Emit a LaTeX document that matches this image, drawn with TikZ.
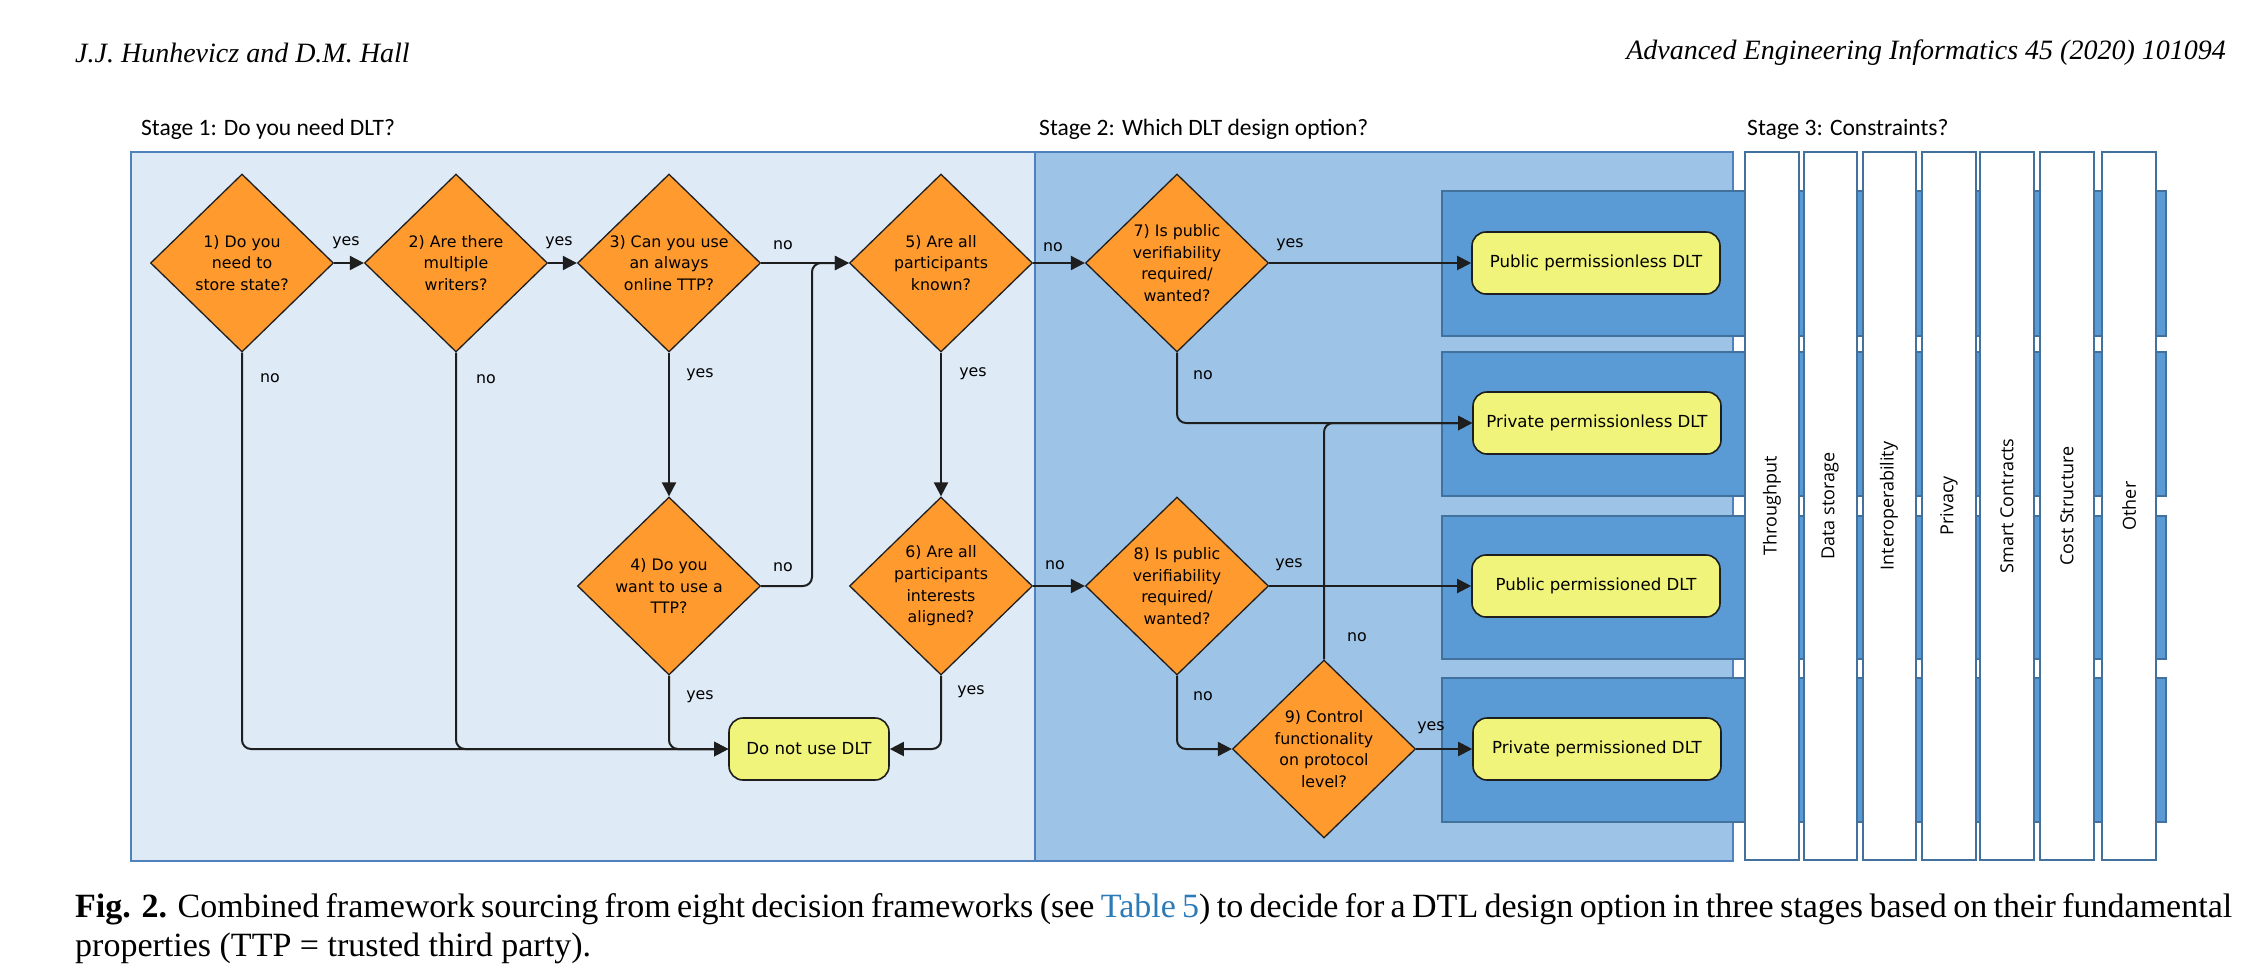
\documentclass[tikz,border=0pt]{standalone}
\usepackage{fontspec}
\setmainfont{Liberation Serif}
\newfontfamily\diagfont{DejaVu Sans}
\newfontfamily\stagefont{Carlito}
\newfontfamily\colfont{Open Sans}
\usetikzlibrary{shapes.geometric,arrows.meta}
\definecolor{stageone}{HTML}{DEEAF6}
\definecolor{stagetwo}{HTML}{9DC3E6}
\definecolor{bandfill}{HTML}{5B9BD5}
\definecolor{bandline}{HTML}{41719C}
\definecolor{framecol}{HTML}{4F81BD}
\definecolor{diafill}{HTML}{FF9A2E}
\definecolor{yfill}{HTML}{F0F47A}
\definecolor{linkblue}{HTML}{2B7BB9}
\definecolor{ink}{HTML}{1E1E1E}
\tikzset{
  decision/.style={diamond, draw=ink, line width=1.3pt, fill=diafill,
    minimum width=183pt, minimum height=178pt, inner sep=0pt, align=center,
    font=\diagfont\fontsize{15.8}{21.7}\selectfont},
  result/.style={rectangle, rounded corners=14pt, draw=ink, line width=1.6pt,
    fill=yfill, inner sep=0pt, align=center,
    font=\diagfont\fontsize{16.6}{21.7}\selectfont},
  flow/.style={draw=ink, line width=2pt, rounded corners=9pt,
    -{Triangle[length=14pt,width=14pt]}},
  lab/.style={font=\diagfont\fontsize{15.8}{20}\selectfont, inner sep=0pt},
  stagelab/.style={font=\stagefont\fontsize{23.5}{27}\selectfont, inner sep=0pt, anchor=west},
  colbox/.style={draw=bandline, line width=2.5pt, fill=white},
  bandbox/.style={draw=bandline, line width=1.6pt, fill=bandfill},
  stagebox/.style={draw=framecol, line width=2.6pt},
  collab/.style={font=\colfont\fontsize{18}{21}\selectfont, rotate=90, inner sep=0pt},
}
\begin{document}
\begin{tikzpicture}[x=1pt,y=-1pt]
\useasboundingbox (0,0) rectangle (2251,970);
\fill[white] (0,0) rectangle (2251,970);

% header
\node[anchor=west, inner sep=0pt, font=\itshape\fontsize{28}{32}\selectfont] (hdl) at (75,53) {J.J. Hunhevicz and D.M. Hall};
\node[anchor=east, inner sep=0pt, font=\itshape\fontsize{28}{32}\selectfont] (hdr) at (2226,53) {Advanced Engineering Informatics 45 (2020) 101094};

% stage labels
\node[stagelab] (s1) at (141,129) {Stage 1: Do you need DLT?};
\node[stagelab] (s2) at (1039,129) {Stage 2: Which DLT design option?};
\node[stagelab] (s3) at (1747,129) {Stage 3: Constraints?};

% stage boxes
\path[stagebox, fill=stageone] (131,152) rectangle (1035,861);
\path[stagebox, fill=stagetwo] (1035,152) rectangle (1733,861);

% bands
\path[bandbox] (1442,191) rectangle (2166,336);
\path[bandbox] (1442,352) rectangle (2166,496);
\path[bandbox] (1442,516) rectangle (2166,659);
\path[bandbox] (1442,678) rectangle (2166,822);

% constraint columns
\path[colbox] (1745,152) rectangle (1799,860);
\path[colbox] (1804,152) rectangle (1857,860);
\path[colbox] (1863,152) rectangle (1916,860);
\path[colbox] (1922,152) rectangle (1976,860);
\path[colbox] (1980,152) rectangle (2034,860);
\path[colbox] (2040,152) rectangle (2094,860);
\path[colbox] (2102,152) rectangle (2156,860);
\node[collab] (c1) at (1772,506) {Throughput};
\node[collab] (c2) at (1830,506) {Data storage};
\node[collab] (c3) at (1889,506) {Interoperability};
\node[collab] (c4) at (1949,506) {Privacy};
\node[collab] (c5) at (2007,506) {Smart Contracts};
\node[collab] (c6) at (2067,506) {Cost Structure};
\node[collab] (c7) at (2129,506) {Other};

% decisions
\node[decision] (d1) at (242,263) {1) Do you\\need to\\store state?};
\node[decision] (d2) at (456,263) {2) Are there\\multiple\\writers?};
\node[decision] (d3) at (669,263) {3) Can you use\\an always\\online TTP?};
\node[decision] (d5) at (941,263) {5) Are all\\participants\\known?};
\node[decision] (d4) at (669,586) {4) Do you\\want to use a\\TTP?};
\node[decision] (d6) at (941,586) {6) Are all\\participants\\interests\\aligned?};
\node[decision] (d7) at (1177,263) {7) Is public\\verifiability\\required/\\wanted?};
\node[decision] (d8) at (1177,586) {8) Is public\\verifiability\\required/\\wanted?};
\node[decision] (d9) at (1324,749) {9) Control\\functionality\\on protocol\\level?};

% results
\node[result, minimum width=160pt, minimum height=62pt] (dnu) at (809,749) {Do not use DLT};
\node[result, minimum width=248pt, minimum height=62pt] (y1) at (1596,263) {Public permissionless DLT};
\node[result, minimum width=248pt, minimum height=62pt] (y2) at (1597,423) {Private permissionless DLT};
\node[result, minimum width=248pt, minimum height=62pt] (y3) at (1596,586) {Public permissioned DLT};
\node[result, minimum width=248pt, minimum height=62pt] (y4) at (1597,749) {Private permissioned DLT};

% junction coordinates
\coordinate (m35) at (812,263);

% connectors
\draw[flow] (d1.east) -- (d2.west);
\draw[flow] (d2.east) -- (d3.west);
\draw[flow] (d3.east) -- (d5.west);
\draw[flow] (d3.south) -- (d4.north);
\draw[flow] (d4.east) -| (m35) -- (d5.west);
\draw[flow] (d5.south) -- (d6.north);
\draw[flow] (d5.east) -- (d7.west);
\draw[flow] (d6.east) -- (d8.west);
\draw[flow] (d1.south) |- (dnu.west);
\draw[flow] (d2.south) |- (dnu.west);
\draw[flow] (d4.south) |- (dnu.west);
\draw[flow] (d6.south) |- (dnu.east);
\draw[flow] (d7.east) -- (y1.west);
\draw[flow] (d7.south) |- (y2.west);
\draw[flow] (d8.east) -- (y3.west);
\draw[flow] (d8.south) |- (d9.west);
\draw[flow] (d9.east) -- (y4.west);
\draw[flow] (d9.north) |- (y2.west);

% labels
\node[lab] (l1) at (346,243) {yes};
\node[lab] (l2) at (559,243) {yes};
\node[lab] (l3) at (783,245) {no};
\node[lab] (l4) at (1053,247) {no};
\node[lab] (l5) at (1290,245) {yes};
\node[lab] (l6) at (270,378) {no};
\node[lab] (l7) at (486,379) {no};
\node[lab] (l8) at (700,375) {yes};
\node[lab] (l9) at (973,374) {yes};
\node[lab] (l10) at (1203,375) {no};
\node[lab] (l11) at (783,567) {no};
\node[lab] (l12) at (1055,565) {no};
\node[lab] (l13) at (1289,565) {yes};
\node[lab] (l14) at (1357,637) {no};
\node[lab] (l15) at (700,697) {yes};
\node[lab] (l16) at (971,692) {yes};
\node[lab] (l17) at (1203,696) {no};
\node[lab] (l18) at (1431,728) {yes};

% caption
\node[anchor=north west, inner sep=0pt, align=left, font=\fontsize{34}{39}\selectfont] (cap) at (75,893)
 {\makebox[2157pt][s]{\textbf{Fig. 2.} Combined framework sourcing from eight decision frameworks (see {\color{linkblue}Table 5}) to decide for a DTL design option in three stages based on their fundamental}\\
  properties (TTP = trusted third party).};
\end{tikzpicture}
\end{document}
